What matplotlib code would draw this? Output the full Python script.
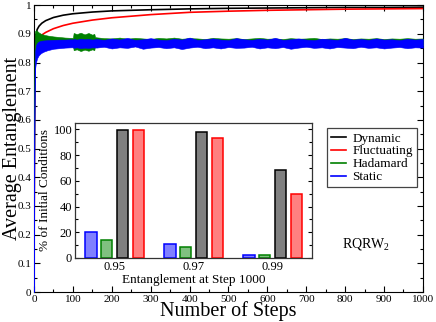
import matplotlib
matplotlib.use('Agg')
import matplotlib.pyplot as plt
import numpy as np

plt.rcParams['font.family'] = ['Liberation Serif', 'DejaVu Serif']
plt.rcParams['mathtext.fontset'] = 'custom'
plt.rcParams['mathtext.rm'] = 'Liberation Serif'

# --- smooth curves (Dynamic / Fluctuating) ---
curve_steps = [0, 1, 2, 3, 5, 8, 13, 20, 30, 50, 75, 100, 150, 200, 300, 400, 500, 600, 700, 800, 900, 1000]
dynamic = [0, 0.60, 0.80, 0.86, 0.895, 0.915, 0.927, 0.937, 0.946, 0.957, 0.965, 0.970, 0.976, 0.980,
           0.984, 0.987, 0.989, 0.990, 0.991, 0.992, 0.992, 0.993]
fluctuating = [0, 0.55, 0.75, 0.82, 0.86, 0.877, 0.887, 0.896, 0.905, 0.918, 0.929, 0.937, 0.948, 0.956,
               0.967, 0.975, 0.979, 0.982, 0.984, 0.986, 0.987, 0.988]

# --- noisy bands (Hadamard / Static): upper and lower envelope ---
band_steps = [0, 1, 2, 3, 5, 8, 12, 18, 25, 35, 50, 65, 80, 95, 100, 102, 110, 120, 130, 140, 150, 155, 157] \
    + list(range(160, 1001, 20))

hadamard_hi = [0, 0.80, 0.88, 0.91, 0.913, 0.910, 0.905, 0.900, 0.897, 0.894, 0.891, 0.889, 0.887, 0.886,
               0.886, 0.903, 0.899, 0.904, 0.898, 0.903, 0.897, 0.900, 0.889,
               0.888, 0.885, 0.884, 0.887, 0.883, 0.886, 0.884, 0.882, 0.886, 0.884,
               0.887, 0.883, 0.885, 0.884, 0.882, 0.886, 0.884, 0.883, 0.885, 0.882,
               0.884, 0.886, 0.883, 0.884, 0.882, 0.885, 0.883, 0.884, 0.886, 0.882,
               0.884, 0.883, 0.885, 0.882, 0.884, 0.883, 0.885, 0.882, 0.884, 0.883,
               0.885, 0.883, 0.884]
hadamard_lo = [0, 0.70, 0.76, 0.80, 0.82, 0.83, 0.835, 0.840, 0.845, 0.850, 0.853, 0.856, 0.858, 0.860,
               0.860, 0.843, 0.846, 0.840, 0.845, 0.841, 0.846, 0.843, 0.857,
               0.858, 0.860, 0.857, 0.861, 0.859, 0.858, 0.860, 0.862, 0.859, 0.857,
               0.860, 0.861, 0.858, 0.860, 0.859, 0.861, 0.858, 0.860, 0.862, 0.859,
               0.860, 0.858, 0.861, 0.859, 0.860, 0.862, 0.858, 0.860, 0.859, 0.861,
               0.860, 0.858, 0.861, 0.859, 0.860, 0.862, 0.859, 0.860, 0.858, 0.861,
               0.860, 0.859, 0.860]
static_hi = [0, 0.70, 0.80, 0.84, 0.86, 0.868, 0.873, 0.876, 0.877, 0.878, 0.879, 0.880, 0.880, 0.881,
             0.880, 0.882, 0.880, 0.883, 0.881, 0.882, 0.880, 0.881, 0.881,
             0.882, 0.879, 0.884, 0.880, 0.886, 0.879, 0.881, 0.885, 0.880, 0.878,
             0.883, 0.880, 0.887, 0.879, 0.881, 0.884, 0.880, 0.878, 0.885, 0.881,
             0.879, 0.883, 0.880, 0.886, 0.879, 0.881, 0.884, 0.880, 0.878, 0.883,
             0.881, 0.879, 0.886, 0.880, 0.882, 0.879, 0.884, 0.880, 0.881, 0.878,
             0.883, 0.880, 0.882]
static_lo = [0, 0.55, 0.72, 0.78, 0.80, 0.815, 0.825, 0.833, 0.838, 0.843, 0.848, 0.850, 0.852, 0.853,
             0.853, 0.851, 0.853, 0.850, 0.852, 0.851, 0.853, 0.852, 0.853,
             0.852, 0.855, 0.849, 0.853, 0.851, 0.856, 0.848, 0.852, 0.854, 0.850,
             0.853, 0.847, 0.852, 0.855, 0.850, 0.853, 0.849, 0.854, 0.851, 0.852,
             0.855, 0.849, 0.853, 0.850, 0.854, 0.848, 0.852, 0.855, 0.851, 0.853,
             0.849, 0.854, 0.852, 0.850, 0.855, 0.851, 0.853, 0.849, 0.852, 0.854,
             0.850, 0.853, 0.852]

# --- inset bars ---
thresholds = ['0.95', '0.97', '0.99']
static_pct = [19.9, 11.1, 2.1]
hadamard_pct = [14.2, 8.5, 2.3]
dynamic_pct = [99.7, 97.9, 68.5]
fluct_pct = [99.2, 93.0, 50.1]

fig = plt.figure(figsize=(4.36, 3.22), dpi=100)
ax = fig.add_axes([0.078, 0.093, 0.892, 0.891])

ax.plot(curve_steps, dynamic, color='black', lw=1.2, zorder=2)
ax.plot(curve_steps, fluctuating, color='red', lw=1.2, zorder=2)
ax.fill_between(band_steps, hadamard_lo, hadamard_hi, color='#008000', lw=0.4, zorder=3)
ax.fill_between(band_steps, static_lo, static_hi, color='#0000ff', lw=0.4, zorder=4)

ax.set_xlim(0, 1000)
ax.set_ylim(0, 1)
ax.set_xticks(np.arange(0, 1001, 100))
ax.set_xticks(np.arange(0, 1001, 50), minor=True)
ax.set_yticks(np.arange(0, 1.01, 0.1))
ax.set_yticks(np.arange(0, 1.01, 0.05), minor=True)
ax.set_yticklabels(['0', '0.1', '0.2', '0.3', '0.4', '0.5', '0.6', '0.7', '0.8', '0.9', '1'])
ax.tick_params(which='both', direction='in', top=True, right=True, labelsize=8, width=0.8)
ax.tick_params(which='major', length=4, pad=2)
ax.tick_params(which='minor', length=2)
ax.set_xlabel('Number of Steps', fontsize=14.5)
ax.set_ylabel('Average Entanglement', fontsize=14.5)
ax.xaxis.set_label_coords(0.5, -0.032)
ax.yaxis.set_label_coords(-0.03, 0.5)

ax.text(0.785, 0.23, 'RQRW$_2$', transform=fig.transFigure, fontsize=10)

# legend with proxy lines
handles = [plt.Line2D([], [], color=c, lw=1.2) for c in ['black', 'red', '#008000', '#0000ff']]
leg = fig.legend(handles, ['Dynamic', 'Fluctuating', 'Hadamard', 'Static'],
                 loc='upper left', bbox_to_anchor=(0.735, 0.622), fontsize=9.5,
                 handlelength=1.1, handletextpad=0.5, labelspacing=0.05,
                 borderpad=0.3, fancybox=False, framealpha=1, edgecolor='#444444')
leg.get_frame().set_linewidth(0.9)

# inset
ins = fig.add_axes([0.172, 0.199, 0.544, 0.419])
x = np.arange(len(thresholds))
w = 0.145
gap = 0.2
ins.bar(x - 1.5 * gap, static_pct, w, color='#8080ff', edgecolor='#0000ff', lw=1.1)
ins.bar(x - 0.5 * gap, hadamard_pct, w, color='#80c080', edgecolor='#008000', lw=1.1)
ins.bar(x + 0.5 * gap, dynamic_pct, w, color='#808080', edgecolor='black', lw=1.1)
ins.bar(x + 1.5 * gap, fluct_pct, w, color='#ff8080', edgecolor='red', lw=1.1)
ins.set_xlim(-0.5, 2.5)
ins.set_ylim(0, 105)
ins.set_xticks(x)
ins.set_xticklabels(thresholds)
ins.set_yticks(np.arange(0, 101, 20))
ins.set_yticks(np.arange(0, 101, 10), minor=True)
ins.tick_params(which='both', direction='in', right=True, labelsize=9, width=0.8, pad=2)
ins.tick_params(which='major', length=3)
ins.tick_params(which='minor', length=2)
ins.tick_params(axis='x', length=0)
ins.set_xlabel('Entanglement at Step 1000', fontsize=9.5, labelpad=1)
ins.set_ylabel('% of Initial Conditions', fontsize=9.5, labelpad=2)
for s in ins.spines.values():
    s.set_linewidth(0.9)
    s.set_color('#333333')

fig.savefig('out.png', dpi=100)
